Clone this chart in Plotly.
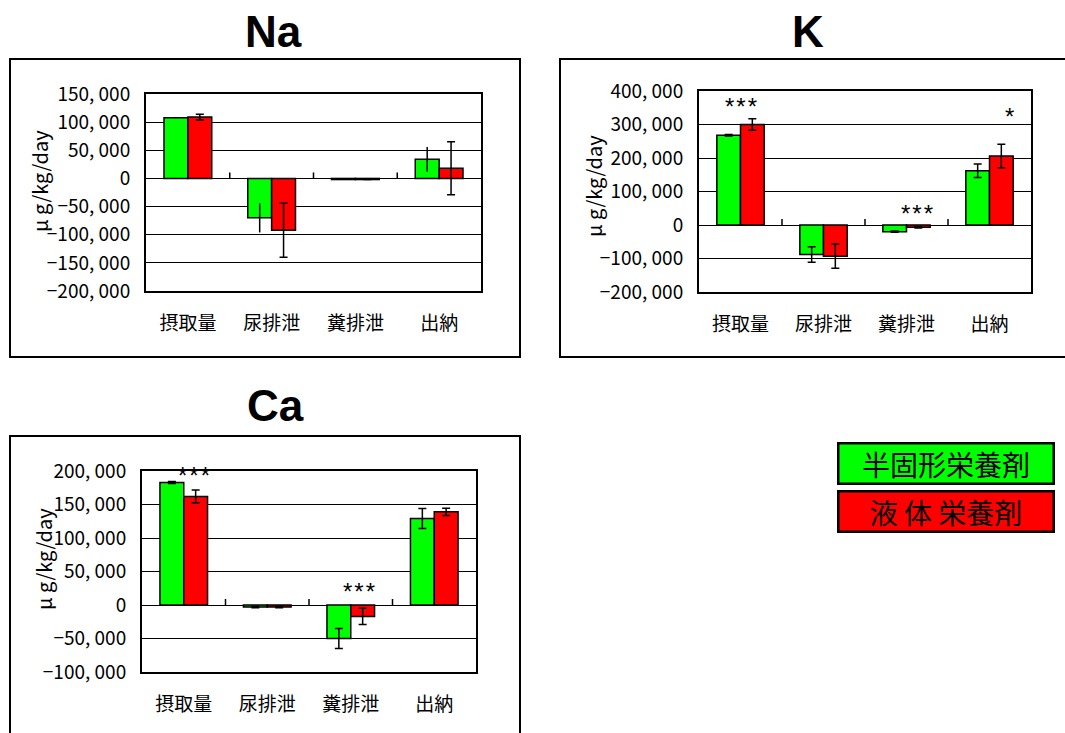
import plotly.graph_objects as go

W, H = 1065, 733

categories = ["摂取量", "尿排泄", "糞排泄", "出納"]
series_names = ["半固形栄養剤", "液 体 栄養剤"]

# Na balance (μg/kg/day)
na_semi = [108000, -70000, -2000, 34000]
na_semi_err = [1000, 26000, 0, 22000]
na_liq = [109000, -92000, -2000, 18000]
na_liq_err = [5000, 48000, 0, 47000]
na_ticks = [-200000, -150000, -100000, -50000, 0, 50000, 100000, 150000]

# K balance (μg/kg/day)
k_semi = [268000, -88000, -20000, 162000]
k_semi_err = [2000, 23000, 2000, 20000]
k_liq = [300000, -93000, -7000, 206000]
k_liq_err = [17000, 36000, 2000, 35000]
k_ticks = [-200000, -100000, 0, 100000, 200000, 300000, 400000]

# Ca balance (μg/kg/day)
ca_semi = [183000, -3000, -50000, 129000]
ca_semi_err = [1500, 1000, 15000, 15000]
ca_liq = [162000, -3000, -17000, 139000]
ca_liq_err = [9500, 1000, 12000, 5500]
ca_ticks = [-100000, -50000, 0, 50000, 100000, 150000, 200000]

GREEN = "#00ff00"
RED = "#ff0000"
JP = "Noto Sans CJK JP"
STARS = "*\u200a*\u200a*"


def px_x(x):
    return x / W


def px_y(y):
    return 1 - y / H


def tick_text(v):
    s = f"{abs(v):,}".replace(",", ", ")
    return ("−" + s) if v < 0 else s


panels = [
    # name, semi, semi_err, liq, liq_err, ticks, plot box px (x0, x1, ytop, ybottom)
    ("Na", na_semi, na_semi_err, na_liq, na_liq_err, na_ticks, (146, 481, 94, 291)),
    ("K", k_semi, k_semi_err, k_liq, k_liq_err, k_ticks, (699, 1031, 91, 292)),
    ("Ca", ca_semi, ca_semi_err, ca_liq, ca_liq_err, ca_ticks, (142, 476, 471, 672)),
]

fig = go.Figure()
layout = dict(
    width=W, height=H,
    margin=dict(l=0, r=0, t=0, b=0, pad=0, autoexpand=False),
    paper_bgcolor="white", plot_bgcolor="white",
    barmode="group", bargap=0.43, bargroupgap=0,
    showlegend=False,
    font=dict(family=JP, color="black"),
)
shapes = []
annotations = []

for i, (name, semi, semi_err, liq, liq_err, ticks, box) in enumerate(panels):
    n = "" if i == 0 else str(i + 1)
    xa, ya = "x" + n, "y" + n
    cap_semi = 0 if name == "Na" else 4
    fig.add_trace(go.Bar(
        x=categories, y=semi, name=series_names[0], xaxis=xa, yaxis=ya,
        marker=dict(color=GREEN, line=dict(color="black", width=1.5)),
        error_y=dict(type="data", array=semi_err, color="black", thickness=1.5, width=cap_semi),
    ))
    fig.add_trace(go.Bar(
        x=categories, y=liq, name=series_names[1], xaxis=xa, yaxis=ya,
        marker=dict(color=RED, line=dict(color="black", width=1.5)),
        error_y=dict(type="data", array=liq_err, color="black", thickness=1.5, width=4),
    ))
    x0, x1, yt, yb = box
    layout["xaxis" + n] = dict(
        domain=[px_x(x0), px_x(x1)], anchor=ya, automargin=False,
        showline=True, linecolor="black", linewidth=2, mirror=True,
        showgrid=False, ticks="", ticklabelstandoff=14,
        tickfont=dict(family=JP, size=19, color="black"),
        fixedrange=True,
    )
    layout["yaxis" + n] = dict(
        domain=[px_y(yb), px_y(yt)], anchor=xa, automargin=False,
        range=[ticks[0], ticks[-1]],
        tickvals=ticks, ticktext=[tick_text(v) for v in ticks],
        showline=True, linecolor="black", linewidth=2, mirror=True,
        showgrid=True, gridcolor="black", gridwidth=1.2,
        zeroline=True, zerolinecolor="black", zerolinewidth=1.2,
        ticks="", ticklabelstandoff=10,
        tickfont=dict(family=JP, size=19, color="black"),
        fixedrange=True,
    )
    # small category-divider ticks sitting on the zero line
    for b in (0.5, 1.5, 2.5):
        shapes.append(dict(
            type="line", xref=xa, yref=ya, x0=b, x1=b,
            ysizemode="pixel", yanchor=0, y0=0, y1=6,
            line=dict(color="black", width=1.5),
        ))

# panel frames
for (bx0, by0, bx1, by1) in [(10, 59, 520, 357), (560, 59, 1080, 357), (10, 436, 520, 745)]:
    shapes.append(dict(
        type="rect", xref="paper", yref="paper",
        x0=px_x(bx0), x1=px_x(bx1), y0=px_y(by1), y1=px_y(by0),
        line=dict(color="black", width=2), fillcolor="rgba(0,0,0,0)",
    ))

# element titles
for text, cx, cy in [("Na", 273, 31), ("K", 808, 31), ("Ca", 275, 405)]:
    annotations.append(dict(
        text=f"<b>{text}</b>", xref="paper", yref="paper",
        x=px_x(cx), y=px_y(cy), xanchor="center", yanchor="middle",
        showarrow=False, font=dict(family="Liberation Sans", size=44, color="black"),
    ))

# y-axis titles
for cx, cy in [(40, 181), (594, 186), (43, 559)]:
    annotations.append(dict(
        text="μ g/kg/day", xref="paper", yref="paper",
        x=px_x(cx), y=px_y(cy), xanchor="center", yanchor="middle",
        textangle=-90, showarrow=False,
        font=dict(family=JP, size=20, color="black"),
    ))

# significance marks
for xa, ya, xc, yv, xs, txt in [
    ("x2", "y2", 0, 370000, 0, STARS),
    ("x2", "y2", 2, 50700, 10, STARS),
    ("x2", "y2", 3, 340000, 20, "*"),
    ("x3", "y3", 0, 200000, 10, STARS),
    ("x3", "y3", 2, 26900, 8, STARS),
]:
    annotations.append(dict(
        text=txt, xref=xa, yref=ya, x=categories[xc], y=yv, xshift=xs, yshift=-5,
        xanchor="center", yanchor="middle", showarrow=False,
        font=dict(family="Liberation Sans", size=24, color="black"),
    ))

# legend boxes
for txt, color, cy in [(series_names[0], GREEN, 463), (series_names[1], RED, 511)]:
    annotations.append(dict(
        text=txt, xref="paper", yref="paper",
        x=px_x(945.5), y=px_y(cy), xanchor="center", yanchor="middle",
        showarrow=False, bgcolor=color, bordercolor="black", borderwidth=2.5,
        width=211, height=36, align="center",
        font=dict(family=JP, size=28, color="black"),
    ))

layout["shapes"] = shapes
layout["annotations"] = annotations
fig.update_layout(**layout)
fig.write_html("out.html")
